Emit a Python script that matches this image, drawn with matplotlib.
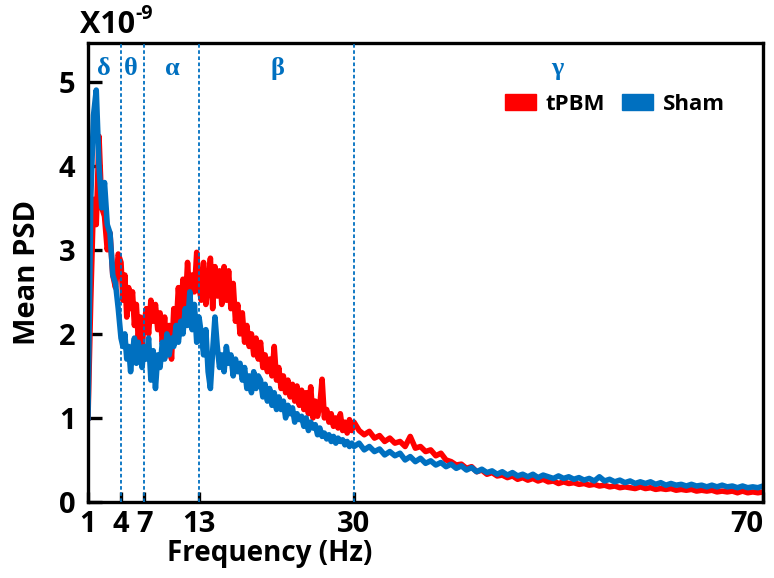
import numpy as np
import matplotlib
matplotlib.use('Agg')
from matplotlib import pyplot as plt
from matplotlib.patches import Patch

# frequency bins (Hz): 0.25 Hz up to 30 Hz, 0.5 Hz above
freq_low = np.arange(1.0, 30.0001, 0.25)
freq_high = np.arange(30.5, 70.0001, 0.5)

# Mean PSD (x1e-9)
sham_low = [
    # 1 - 4 Hz
    1.0, 3.6, 4.6, 4.9, 4.0, 3.5, 3.8, 3.3, 3.2, 2.7, 2.6, 2.3, 1.95,
    # 4 - 7 Hz
    1.85, 2.0, 1.7, 1.85, 1.55, 1.8, 1.95, 1.65, 1.9, 1.75, 1.6, 1.85,
    # 7 - 13 Hz
    1.7, 1.95, 1.45, 1.8, 1.35, 1.75, 1.6, 1.9, 1.7, 2.0, 1.75, 1.95,
    1.85, 2.1, 1.9, 2.15, 2.0, 2.3, 2.1, 2.5, 2.05, 2.35, 1.9, 2.2,
    # 13 - 30 Hz
    2.0, 1.75, 2.05, 1.55, 1.35, 1.8, 2.2, 1.85, 1.6, 1.75, 1.55, 1.85,
    1.65, 1.75, 1.5, 1.7, 1.55, 1.65, 1.45, 1.6, 1.35, 1.5, 1.3, 1.55,
    1.35, 1.5, 1.45, 1.25, 1.4, 1.2, 1.35, 1.15, 1.3, 1.1, 1.25, 1.1,
    1.2, 1.0, 1.15, 1.05, 1.12, 0.95, 1.05, 0.98, 1.02, 0.9, 1.0, 0.85,
    0.95, 0.88, 0.92, 0.8, 0.88, 0.78, 0.82, 0.75, 0.8, 0.72, 0.78, 0.7,
    0.76, 0.72, 0.74, 0.68, 0.72, 0.66, 0.7, 0.66,
]
sham_high = [
    0.7, 0.62, 0.66, 0.6, 0.63, 0.56, 0.6, 0.55, 0.58, 0.5, 0.54, 0.48,
    0.52, 0.46, 0.49, 0.44, 0.47, 0.42, 0.45, 0.4, 0.43, 0.38, 0.41, 0.36,
    0.39, 0.35, 0.37, 0.33, 0.36, 0.32, 0.35, 0.31, 0.33, 0.3, 0.33, 0.29,
    0.32, 0.3, 0.28, 0.31, 0.28, 0.3, 0.27, 0.29, 0.26, 0.28, 0.25, 0.3,
    0.25, 0.27, 0.24, 0.26, 0.23, 0.25, 0.22, 0.24, 0.22, 0.24, 0.21, 0.23,
    0.2, 0.22, 0.2, 0.21, 0.19, 0.21, 0.19, 0.2, 0.18, 0.2, 0.18, 0.2,
    0.18, 0.19, 0.17, 0.19, 0.17, 0.18, 0.17, 0.19,
]
tpbm_low = [
    # 1 - 4 Hz
    1.0, 2.4, 3.6, 3.3, 4.35, 3.5, 3.4, 3.0, 3.2, 2.7, 2.55, 2.95, 2.85,
    # 4 - 7 Hz
    2.4, 2.7, 2.2, 2.55, 2.3, 2.5, 2.1, 2.35, 1.95, 2.2, 1.85, 2.1,
    # 7 - 13 Hz
    2.3, 2.0, 2.4, 2.15, 2.35, 2.05, 2.25, 1.9, 2.2, 1.75, 2.1, 1.7,
    2.3, 2.05, 2.55, 2.2, 2.65, 2.3, 2.85, 2.4, 2.7, 2.5, 2.97, 2.55,
    # 13 - 30 Hz
    2.4, 2.85, 2.35, 2.6, 2.9, 2.3, 2.8, 2.45, 2.75, 2.35, 2.8, 2.4,
    2.75, 2.3, 2.6, 2.15, 2.35, 2.0, 2.25, 1.9, 2.1, 1.85, 2.0, 1.75,
    1.95, 1.7, 1.9, 1.6, 1.75, 1.55, 1.7, 1.5, 1.85, 1.45, 1.6, 1.35,
    1.5, 1.3, 1.45, 1.25, 1.4, 1.2, 1.38, 1.15, 1.33, 1.1, 1.3, 1.05,
    1.37, 1.0, 1.2, 1.02, 1.15, 1.46, 1.0, 1.1, 0.95, 1.05, 0.9, 1.0,
    0.88, 1.05, 0.85, 0.95, 0.82, 0.98, 0.85, 0.95,
]
tpbm_high = [
    0.85, 0.8, 0.84, 0.76, 0.79, 0.72, 0.76, 0.7, 0.72, 0.66, 0.78, 0.64,
    0.66, 0.6, 0.62, 0.55, 0.58, 0.5, 0.48, 0.44, 0.45, 0.4, 0.42, 0.36,
    0.38, 0.33, 0.35, 0.31, 0.32, 0.29, 0.31, 0.27, 0.29, 0.26, 0.28, 0.25,
    0.27, 0.24, 0.25, 0.22, 0.24, 0.22, 0.23, 0.21, 0.22, 0.2, 0.21, 0.19,
    0.2, 0.18, 0.19, 0.17, 0.18, 0.17, 0.16, 0.18, 0.16, 0.17, 0.15, 0.16,
    0.15, 0.16, 0.14, 0.15, 0.14, 0.15, 0.13, 0.14, 0.13, 0.14, 0.12, 0.13,
    0.12, 0.13, 0.11, 0.13, 0.11, 0.12, 0.11, 0.12,
]

freq = np.concatenate([freq_low, freq_high])
sham = np.array(sham_low + sham_high)
tpbm = np.array(tpbm_low + tpbm_high)

band_edges = [4, 7, 13, 30]
band_names = ['δ', 'θ', 'α', 'β', 'γ']
band_label_x = [2.45, 5.3, 10.05, 21.55, 49.85]
xticks = [1, 4, 7, 13, 30, 70]

# the original axis is not linear in Hz: stretch each band to its printed width
scale_hz = [1, 4, 7, 13, 30, 70]
scale_pos = [0, 33, 56, 111, 266, 675]

def fwd(f):
    return np.interp(f, scale_hz, scale_pos)

def inv(p):
    return np.interp(p, scale_pos, scale_hz)

blue = '#0070C0'
red = '#FF0000'
font = 'Open Sans'

fig = plt.figure(figsize=(7.74, 5.78), dpi=100)
ax = fig.add_axes([0.1137, 0.1315, 0.8721, 0.7941])
ax.set_xscale('function', functions=(fwd, inv))

ax.plot(freq, tpbm, color=red, lw=4.0, solid_joinstyle='round')
ax.plot(freq, sham, color=blue, lw=4.0, solid_joinstyle='round')

for f in band_edges:
    ax.axvline(f, color=blue, lw=1.3, ls=(0, (2, 1.4)), zorder=3)

for name, fx in zip(band_names, band_label_x):
    ax.text(fx, 5.16, name, color=blue, fontsize=19, fontweight='bold',
            family='Liberation Serif', ha='center', va='center')

ax.set_xlim(1, 70)
ax.set_ylim(0, 5.46)
ax.set_xticks(xticks)
ax.set_xticklabels([str(t) for t in xticks])
ax.set_yticks([0, 1, 2, 3, 4, 5])
ax.xaxis.set_minor_locator(matplotlib.ticker.NullLocator())

for s in ax.spines.values():
    s.set_linewidth(2.4)
ax.tick_params(axis='y', direction='in', length=10, width=2.4, pad=9)
ax.tick_params(axis='x', direction='in', length=7, width=2.4, pad=6)
for lab in ax.get_xticklabels() + ax.get_yticklabels():
    lab.set_fontsize(21)
    lab.set_fontweight('bold')
    lab.set_family(font)
ax.get_xticklabels()[-1].set_horizontalalignment('right')
ax.get_xticklabels()[-1].set_x(70.4)

fig.text(270 / 774, 1 - 553 / 578, 'Frequency (Hz)', fontsize=20, fontweight='bold',
         family=font, ha='center', va='center')
fig.text(28 / 774, 1 - 272 / 578, 'Mean PSD', fontsize=21, fontweight='bold',
         family=font, ha='center', va='center', rotation=90)
fig.text(80 / 774, 1 - 25 / 578, 'X10', fontsize=22, fontweight='bold',
         family=font, ha='left', va='center')
fig.text(135 / 774, 1 - 14 / 578, '-9', fontsize=14, fontweight='bold',
         family=font, ha='left', va='center')

handles = [Patch(facecolor=red, edgecolor=red), Patch(facecolor=blue, edgecolor=blue)]
ax.legend(handles, ['tPBM', 'Sham'], loc='center', bbox_to_anchor=(615 / 774, 1 - 104 / 578),
          bbox_transform=fig.transFigure, ncol=2, frameon=False, handlelength=1.4,
          handleheight=0.75, handletextpad=0.45, columnspacing=0.75,
          prop={'family': font, 'weight': 'bold', 'size': 16})

fig.savefig('out.png', dpi=100)
